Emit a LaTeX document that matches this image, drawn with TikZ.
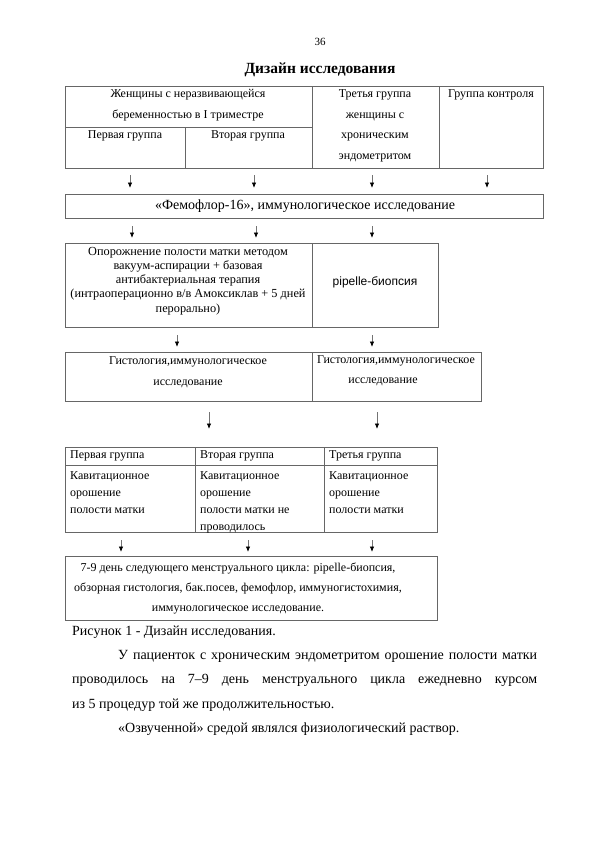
\documentclass[tikz,border=0pt]{standalone}
\usepackage{fontspec}
\setmainfont{Liberation Serif}
\newfontfamily\sansfont{Liberation Sans}
\usetikzlibrary{arrows.meta}

\begin{document}
\begin{tikzpicture}[x=1pt,y=-1pt,
  box/.style={draw=black!60, line width=0.8pt},
  txt/.style={inner sep=0pt, font=\fontsize{12}{14}\selectfont},
  celltxt/.style={txt, anchor=west},
  arr/.style={draw=black!55, line width=0.8pt, -{Latex[length=5.5pt,width=4.5pt,color=black]}}]

\useasboundingbox (0,0) rectangle (594,841);
\fill[white] (0,0) rectangle (594,841);

\node [txt, font=\fontsize{11}{13}\selectfont] (pagenum) at (320,42) {36};
\node [txt, font=\fontsize{15.5}{18}\selectfont\bfseries] (title) at (320,70) {Дизайн исследования};

% First the table with the groups of women:
\draw [box] (65,86) rectangle (543,168);
\draw [box] (65,127) -- (312,127);
\draw [box] (185,127) -- (185,168);
\draw [box] (312,86) -- (312,168);
\draw [box] (439,86) -- (439,168);

\node [txt, align=center, font=\fontsize{12}{20.5}\selectfont] (women) at (188,105)
  {Женщины с неразвивающейся\\беременностью в I триместре};
\node [txt] (grp1) at (125,136) {Первая группа};
\node [txt] (grp2) at (248,136) {Вторая группа};
\node [txt, align=center, font=\fontsize{12}{20.5}\selectfont] (grp3) at (375,126)
  {Третья группа\\женщины с\\хроническим\\эндометритом};
\node [txt] (control) at (491,95) {Группа контроля};

\foreach \x [count=\i] in {130,254,372,487} {
  \coordinate (r1s\i) at (\x,175);
  \coordinate (r1e\i) at (\x,188);
  \draw [arr] (r1s\i) -- (r1e\i);
}

% Examination of all groups:
\draw [box] (65,194) rectangle (543,218);
\node [txt, font=\fontsize{14}{16}\selectfont] (femoflor) at (305,206)
  {«Фемофлор-16», иммунологическое исследование};

\foreach \x [count=\i] in {132,256,372} {
  \coordinate (r2s\i) at (\x,226);
  \coordinate (r2e\i) at (\x,238);
  \draw [arr] (r2s\i) -- (r2e\i);
}

\draw [box] (65,243) rectangle (438,327);
\draw [box] (312,243) -- (312,327);
\node [txt, align=center, font=\fontsize{12.3}{14.2}\selectfont] (aspiration) at (188,281)
  {Опорожнение полости матки методом\\вакуум-аспирации + базовая\\антибактериальная терапия\\(интраоперационно в/в Амоксиклав + 5 дней\\перорально)};
\node [txt, font=\sansfont\fontsize{12}{14}\selectfont] (pipelle) at (375,282) {pipelle-биопсия};

\foreach \x [count=\i] in {177,372} {
  \coordinate (r3s\i) at (\x,335);
  \coordinate (r3e\i) at (\x,347);
  \draw [arr] (r3s\i) -- (r3e\i);
}

\draw [box] (65,352) rectangle (481,401);
\draw [box] (312,352) -- (312,401);
\node [txt, align=center, font=\fontsize{12}{21}\selectfont] (histo1) at (188,372)
  {Гистология,иммунологическое\\исследование};
\node [txt] (histo2a) at (396,361) {Гистология,иммунологическое};
\node [txt] (histo2b) at (383,382) {исследование};

\foreach \x [count=\i] in {209,377} {
  \coordinate (r4s\i) at (\x,412);
  \coordinate (r4e\i) at (\x,429);
  \draw [arr] (r4s\i) -- (r4e\i);
}

% Next, the table with the cavitation:
\draw [box] (65,447) rectangle (437,532);
\draw [box] (65,465) -- (437,465);
\draw [box] (195,447) -- (195,532);
\draw [box] (324,447) -- (324,532);

\node [celltxt] (head1) at (70,456) {Первая группа};
\node [celltxt] (head2) at (200,456) {Вторая группа};
\node [celltxt] (head3) at (329,456) {Третья группа};
\node [txt, anchor=north west, align=left, font=\fontsize{12}{17.2}\selectfont] (cav1) at (70,471)
  {Кавитационное\\орошение\\полости матки};
\node [txt, anchor=north west, align=left, font=\fontsize{12}{17.2}\selectfont] (cav2) at (200,471)
  {Кавитационное\\орошение\\полости матки не\\проводилось};
\node [txt, anchor=north west, align=left, font=\fontsize{12}{17.2}\selectfont] (cav3) at (329,471)
  {Кавитационное\\орошение\\полости матки};

\foreach \x [count=\i] in {121,248,372} {
  \coordinate (r5s\i) at (\x,540);
  \coordinate (r5e\i) at (\x,552);
  \draw [arr] (r5s\i) -- (r5e\i);
}

\draw [box] (65,556) rectangle (437,620);
\node [txt, align=center, font=\fontsize{12}{20}\selectfont] (final) at (238,588)
  {7-9 день следующего менструального цикла: pipelle-биопсия,\\обзорная гистология, бак.посев, фемофлор, иммуногистохимия,\\иммунологическое исследование.};

% The caption and the text below it.
\node [txt, anchor=west, font=\fontsize{14}{16}\selectfont] (caption) at (72,632)
  {Рисунок 1 - Дизайн исследования.};
\node [txt, anchor=north west, text width=465pt, align=justify, font=\fontsize{14}{24.5}\selectfont] (para) at (72,650)
  {\hspace*{46pt}У пациенток с хроническим эндометритом орошение полости матки\linebreak
  проводилось на 7–9 день менструального цикла ежедневно курсом\linebreak
  из 5 процедур той же продолжительностью.\par
  \hspace*{46pt}«Озвученной» средой являлся физиологический раствор.};

\end{tikzpicture}
\end{document}
